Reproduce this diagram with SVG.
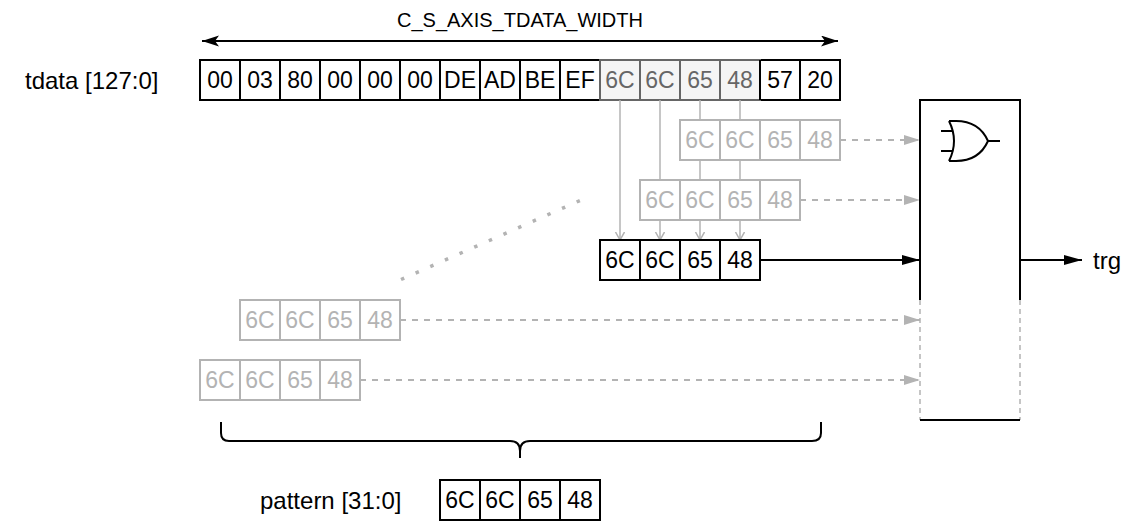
<svg xmlns="http://www.w3.org/2000/svg" width="1142" height="522" viewBox="0 0 1142 522">
<style>
text{font-family:"Liberation Sans",Arial,sans-serif;font-size:23px;dominant-baseline:central}
.lb{font-size:24px}
.c{text-anchor:middle}
.blk rect{fill:#fff;stroke:#000;stroke-width:2}
.blk text{fill:#000}
.hl rect{fill:#f5f5f5;stroke:#666;stroke-width:2}
.hl text{fill:#666}
.gh rect{fill:#fff;stroke:#b3b3b3;stroke-width:2}
.gh text{fill:#b3b3b3}
.gl{stroke:#b3b3b3;stroke-width:1.5;fill:none}
.gd{stroke:#b3b3b3;stroke-width:2;fill:none;stroke-dasharray:6 6}
.bl{stroke:#000;stroke-width:2;fill:none}
</style>
<defs>
<marker id="ab" markerUnits="userSpaceOnUse" markerWidth="20" markerHeight="12" refX="18" refY="5" orient="auto"><path d="M0,0 L18,5 L0,10 Z" fill="#000"/></marker>
<marker id="ag" markerUnits="userSpaceOnUse" markerWidth="20" markerHeight="12" refX="16" refY="5" orient="auto"><path d="M0,0 L16,5 L0,10 Z" fill="#b3b3b3"/></marker>
<marker id="ao" markerUnits="userSpaceOnUse" markerWidth="12" markerHeight="12" refX="8" refY="5" orient="auto"><path d="M0,0.5 L8,5 L0,9.5" fill="none" stroke="#b3b3b3" stroke-width="1.5"/></marker>
<marker id="ad" markerUnits="userSpaceOnUse" markerWidth="20" markerHeight="12" refX="17" refY="5.5" orient="auto-start-reverse"><path d="M0,0 L17,5.5 L0,11 L4,5.5 Z" fill="#000"/></marker>
</defs>

<g id="width-dimension">
<line x1="202" y1="41" x2="838" y2="41" class="bl" marker-start="url(#ad)" marker-end="url(#ad)"/>
<text x="520" y="20" class="c" style="font-size:20px">C_S_AXIS_TDATA_WIDTH</text>
</g>

<g id="tdata-label"><text x="25" y="80" class="lb">tdata [127:0]</text></g>

<g id="tdata">
<g class="blk">
<rect x="200" y="60" width="40" height="40"/><text x="220" y="80" class="c">00</text>
<rect x="240" y="60" width="40" height="40"/><text x="260" y="80" class="c">03</text>
<rect x="280" y="60" width="40" height="40"/><text x="300" y="80" class="c">80</text>
<rect x="320" y="60" width="40" height="40"/><text x="340" y="80" class="c">00</text>
<rect x="360" y="60" width="40" height="40"/><text x="380" y="80" class="c">00</text>
<rect x="400" y="60" width="40" height="40"/><text x="420" y="80" class="c">00</text>
<rect x="440" y="60" width="40" height="40"/><text x="460" y="80" class="c">DE</text>
<rect x="480" y="60" width="40" height="40"/><text x="500" y="80" class="c">AD</text>
<rect x="520" y="60" width="40" height="40"/><text x="540" y="80" class="c">BE</text>
<rect x="560" y="60" width="40" height="40"/><text x="580" y="80" class="c">EF</text>
<rect x="760" y="60" width="40" height="40"/><text x="780" y="80" class="c">57</text>
<rect x="800" y="60" width="40" height="40"/><text x="820" y="80" class="c">20</text>
</g>
<g class="hl">
<rect x="600" y="60" width="40" height="40"/><text x="620" y="80" class="c">6C</text>
<rect x="640" y="60" width="40" height="40"/><text x="660" y="80" class="c">6C</text>
<rect x="680" y="60" width="40" height="40"/><text x="700" y="80" class="c">65</text>
<rect x="720" y="60" width="40" height="40"/><text x="740" y="80" class="c">48</text>
</g>
<line x1="600" y1="60" x2="600" y2="100" stroke="#666" stroke-width="2"/>
<line x1="760" y1="60" x2="760" y2="100" stroke="#000" stroke-width="2"/>
</g>

<g id="connectors">
<line x1="620" y1="100" x2="620" y2="240" class="gl" marker-end="url(#ao)"/>
<line x1="660" y1="100" x2="660" y2="180" class="gl"/>
<line x1="660" y1="220" x2="660" y2="240" class="gl" marker-end="url(#ao)"/>
<line x1="700" y1="100" x2="700" y2="120" class="gl"/>
<line x1="700" y1="160" x2="700" y2="180" class="gl"/>
<line x1="700" y1="220" x2="700" y2="240" class="gl" marker-end="url(#ao)"/>
<line x1="740" y1="100" x2="740" y2="120" class="gl"/>
<line x1="740" y1="160" x2="740" y2="180" class="gl"/>
<line x1="740" y1="220" x2="740" y2="240" class="gl" marker-end="url(#ao)"/>
<line x1="840" y1="140" x2="920" y2="140" class="gd" marker-end="url(#ag)"/>
<line x1="800" y1="200" x2="920" y2="200" class="gd" marker-end="url(#ag)"/>
<line x1="760" y1="260" x2="920" y2="260" class="bl" marker-end="url(#ab)"/>
<line x1="400" y1="320" x2="920" y2="320" class="gd" marker-end="url(#ag)"/>
<line x1="360" y1="380" x2="920" y2="380" class="gd" marker-end="url(#ag)"/>
<line x1="1020" y1="260" x2="1082" y2="260" class="bl" marker-end="url(#ab)"/>
<line x1="401" y1="279.5" x2="580" y2="200.5" stroke="#b3b3b3" stroke-width="3.5" stroke-dasharray="3.5 12.5"/>
</g>

<g id="shift1" class="gh">
<rect x="680" y="120" width="40" height="40"/><text x="700" y="140" class="c">6C</text>
<rect x="720" y="120" width="40" height="40"/><text x="740" y="140" class="c">6C</text>
<rect x="760" y="120" width="40" height="40"/><text x="780" y="140" class="c">65</text>
<rect x="800" y="120" width="40" height="40"/><text x="820" y="140" class="c">48</text>
</g>
<g id="shift2" class="gh">
<rect x="640" y="180" width="40" height="40"/><text x="660" y="200" class="c">6C</text>
<rect x="680" y="180" width="40" height="40"/><text x="700" y="200" class="c">6C</text>
<rect x="720" y="180" width="40" height="40"/><text x="740" y="200" class="c">65</text>
<rect x="760" y="180" width="40" height="40"/><text x="780" y="200" class="c">48</text>
</g>
<g id="shift3" class="blk">
<rect x="600" y="240" width="40" height="40"/><text x="620" y="260" class="c">6C</text>
<rect x="640" y="240" width="40" height="40"/><text x="660" y="260" class="c">6C</text>
<rect x="680" y="240" width="40" height="40"/><text x="700" y="260" class="c">65</text>
<rect x="720" y="240" width="40" height="40"/><text x="740" y="260" class="c">48</text>
</g>
<g id="shift4" class="gh">
<rect x="240" y="300" width="40" height="40"/><text x="260" y="320" class="c">6C</text>
<rect x="280" y="300" width="40" height="40"/><text x="300" y="320" class="c">6C</text>
<rect x="320" y="300" width="40" height="40"/><text x="340" y="320" class="c">65</text>
<rect x="360" y="300" width="40" height="40"/><text x="380" y="320" class="c">48</text>
</g>
<g id="shift5" class="gh">
<rect x="200" y="360" width="40" height="40"/><text x="220" y="380" class="c">6C</text>
<rect x="240" y="360" width="40" height="40"/><text x="260" y="380" class="c">6C</text>
<rect x="280" y="360" width="40" height="40"/><text x="300" y="380" class="c">65</text>
<rect x="320" y="360" width="40" height="40"/><text x="340" y="380" class="c">48</text>
</g>

<g id="or-block">
<path d="M920,300 V100 H1020 V300" class="bl"/>
<path d="M920,300 V420 M1020,300 V420" stroke="#b3b3b3" stroke-width="1.5" stroke-dasharray="5 4" fill="none"/>
<line x1="920" y1="420" x2="1020" y2="420" class="bl"/>
<path d="M941,131 H953 M941,151 H953 M949,121 Q959,141 949,161 M949,121 H956 Q979,121 988,141 Q979,161 956,161 H949 M988,141 H1000" class="bl"/>
</g>

<g id="trg-label"><text x="1093" y="260" class="lb">trg</text></g>

<g id="brace">
<path d="M221,422 V433 Q221,441 229,441 H510 Q520,441 520,451 V458 M520,451 Q520,441 530,441 H812 Q821,441 821,433 V422" class="bl"/>
</g>

<g id="pattern-label"><text x="260" y="500" class="lb">pattern [31:0]</text></g>
<g id="pattern" class="blk">
<rect x="440" y="480" width="40" height="40"/><text x="460" y="500" class="c">6C</text>
<rect x="480" y="480" width="40" height="40"/><text x="500" y="500" class="c">6C</text>
<rect x="520" y="480" width="40" height="40"/><text x="540" y="500" class="c">65</text>
<rect x="560" y="480" width="40" height="40"/><text x="580" y="500" class="c">48</text>
</g>
</svg>
